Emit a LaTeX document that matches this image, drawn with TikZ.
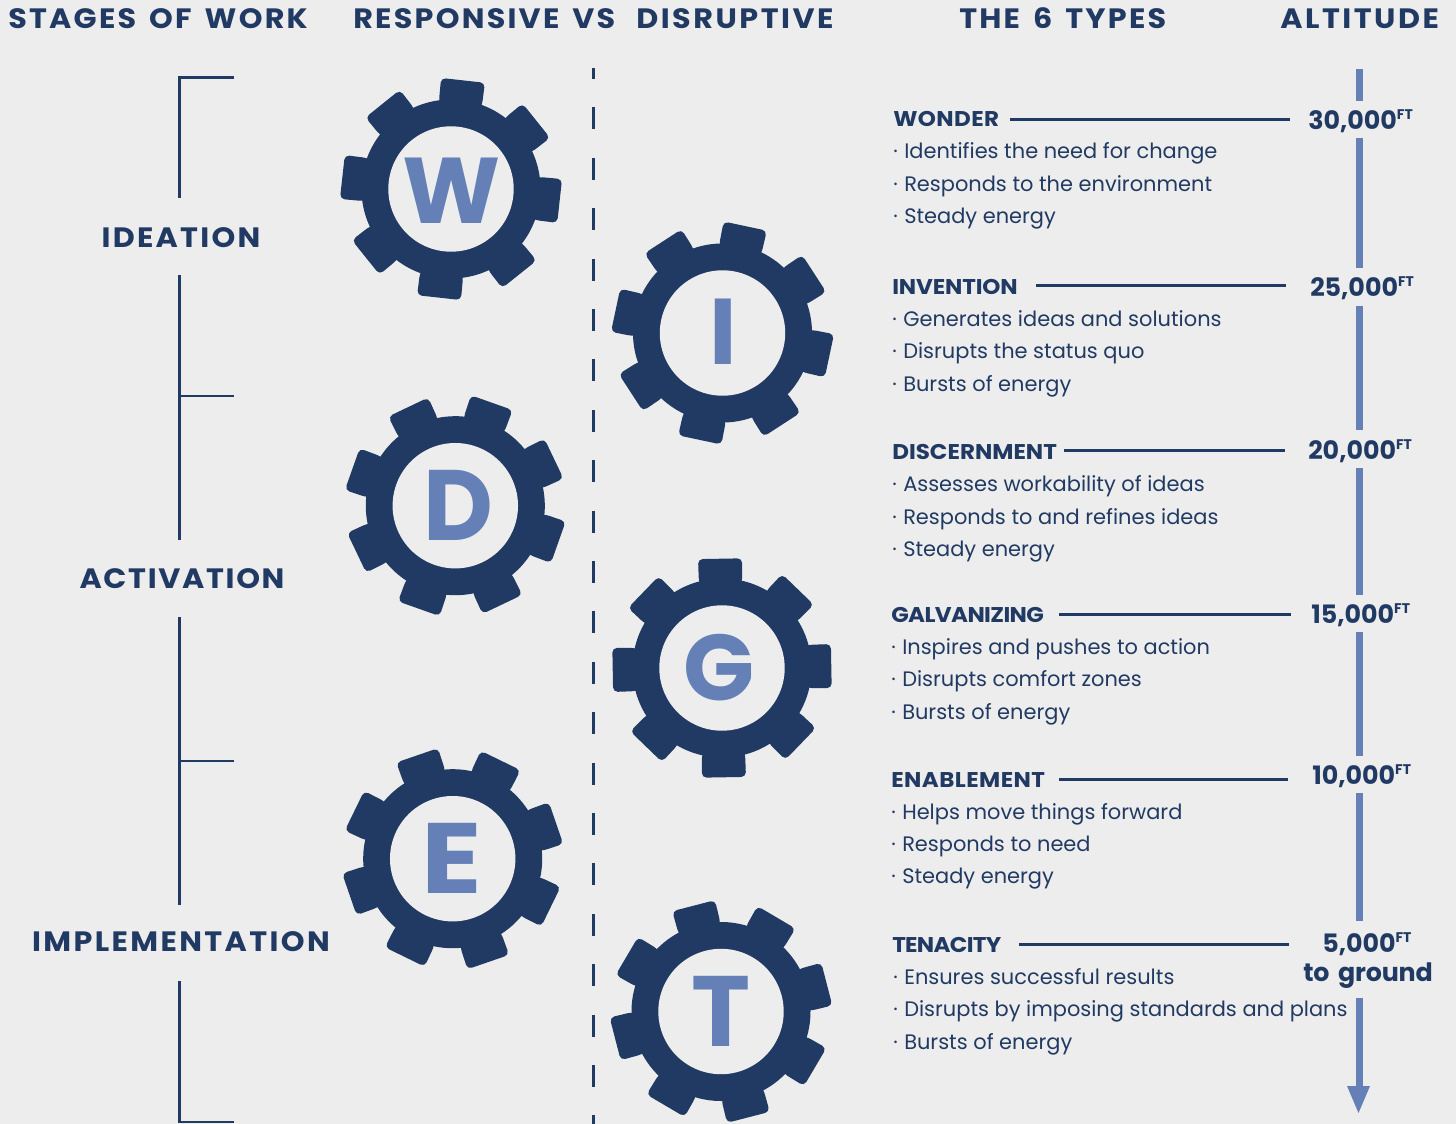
\documentclass[tikz,border=0pt]{standalone}
\usepackage{fontspec}
\setmainfont{Poppins}
\newfontfamily\hd[LetterSpace=8,FakeStretch=1.08,WordSpace=1.5]{Poppins}[BoldFont=Poppins Bold]
\newfontfamily\tyh[FakeStretch=1.08]{Poppins}[BoldFont=Poppins Bold]
\definecolor{navy}{HTML}{213A63}
\definecolor{steel}{HTML}{6480B6}
\definecolor{paper}{HTML}{EDEDED}
\newcommand{\bul}{\makebox[8.25pt][l]{·}}
\newcommand{\ftsup}{\raisebox{7pt}{\fontsize{10.5pt}{10.5pt}\selectfont FT}}
\newcommand{\gear}[8]{% name, x, y, rot, letter, letter x, baseline, letter size/feature
  \begin{scope}[shift={(#2,#3)},y=0.75pt,rotate=-#4]
    \fill[navy] (0,0) circle (89.5);
    \foreach \a in {0,45,...,315}{
      \fill[navy,rounded corners=3.5pt] (\a-13:80) -- (\a-14:89.5) -- (\a-11.4:111.5) -- (\a+11.4:111.5) -- (\a+14:89.5) -- (\a+13:80) -- cycle;
    }
    \fill[paper] (0,0) circle (62.7);
  \end{scope}
  \node[gearletter] (#1) at (#6,#7) {#8#5};
}
\newcommand{\glyphsmall}{\fontsize{70pt}{70pt}\selectfont}
\newcommand{\glyphbig}{\fontsize{75pt}{75pt}\selectfont}
\tikzset{
  x=0.75pt,y=-0.75pt,
  gearletter/.style={anchor=base,inner sep=0,text=steel,font=\bfseries},
  stagehead/.style={anchor=base west,inner sep=0,text=navy,font=\fontsize{21pt}{21pt}\hd\bfseries},
  stagelabel/.style={anchor=base,inner sep=0,text=navy,font=\fontsize{21pt}{21pt}\hd\bfseries},
  typehead/.style={anchor=base west,inner sep=0,text=navy,font=\fontsize{16pt}{16pt}\tyh\bfseries},
  bodytext/.style={anchor=base west,inner sep=0,yshift=0.2pt,text=navy,font=\fontsize{15.7pt}{15.7pt}\selectfont},
  altnum/.style={anchor=base west,inner sep=0,yshift=0.6pt,text=navy,font=\fontsize{19pt}{19pt}\selectfont\bfseries},
  bracket/.style={draw=navy,line width=2pt},
  rule/.style={draw=navy,line width=2.25pt},
  scale bar/.style={draw=steel,line width=5.25pt},
  divider/.style={draw=navy,line width=2.25pt,dash pattern=on 16.5pt off 21.3pt,dash phase=8.25pt},
}
\begin{document}
\begin{tikzpicture}
\fill[paper] (0,0) rectangle (1456,1124);
\useasboundingbox (0,0) rectangle (1456,1124);
% column heads
\node[stagehead] (h1) at (8,29) {STAGES OF WORK};
\node[stagehead] (h2) at (353,29) {RESPONSIVE VS};
\node[stagehead] (h2b) at (636,29) {\addfontfeature{LetterSpace=9}DISRUPTIVE};
\node[stagehead] (h3) at (959,29) {THE 6 TYPES};
\node[stagehead] (h4) at (1280,29) {\addfontfeature{LetterSpace=9}ALTITUDE};
% stage labels
\node[stagelabel] (s1) at (181,247) {IDEATION};
\node[stagelabel] (s2) at (182,588) {\addfontfeature{LetterSpace=6}ACTIVATION};
\node[stagelabel] (s3) at (181,951) {\addfontfeature{LetterSpace=8.5}IMPLEMENTATION};
% brackets
\coordinate (b1) at (234,77.6); \coordinate (b2) at (179.3,77.6); \coordinate (b3) at (179.3,198);
\coordinate (b4) at (179.3,275); \coordinate (b5) at (179.3,540); \coordinate (b6) at (234,396); \coordinate (b7) at (179.3,396);
\coordinate (b8) at (179.3,617); \coordinate (b9) at (179.3,905); \coordinate (b10) at (234,761); \coordinate (b11) at (179.3,761);
\coordinate (b12) at (179.3,981); \coordinate (b13) at (179.3,1122); \coordinate (b14) at (234,1122);
\draw[bracket] (b1) -- (b2) -- (b3);
\draw[bracket] (b4) -- (b5); \draw[bracket] (b6) -- (b7);
\draw[bracket] (b8) -- (b9); \draw[bracket] (b10) -- (b11);
\draw[bracket] (b12) -- (b13) -- (b14);
% divider
\coordinate (d1) at (593,68); \coordinate (d2) at (593,1124);
\draw[divider] (d1) -- (d2);
% gears
\gear{W}{451}{189}{6.3}{W}{452}{223.5}{\glyphsmall}
\gear{I}{722.5}{333}{12}{I}{723}{364}{\glyphsmall}
\gear{D}{455.3}{505.7}{19.5}{D}{458.7}{540.3}{\glyphbig\addfontfeature{FakeStretch=0.96}}
\gear{G}{722}{668}{-1}{G}{719}{700}{\glyphsmall}
\gear{E}{452.7}{858.7}{26}{E}{452}{893.7}{\glyphbig\addfontfeature{FakeStretch=1.12}}
\gear{T}{721}{1011.5}{30.5}{T}{721.3}{1046.7}{\glyphbig}
% types
\node[typehead] (t1) at (893,127) {\addfontfeature{LetterSpace=1.9}WONDER};
\node[bodytext] at (893,159) {\bul Identifies the need for change};
\node[bodytext] at (893,192) {\bul Responds to the environment};
\node[bodytext] at (893,224) {\bul Steady energy};
\node[typehead] (t2) at (892,294) {\addfontfeature{LetterSpace=-0.7}INVENTION};
\node[bodytext] at (892,327) {\bul Generates ideas and solutions};
\node[bodytext] at (892,359) {\bul Disrupts the status quo};
\node[bodytext] at (892,392) {\bul Bursts of energy};
\node[typehead] (t3) at (892,459) {DISCERNMENT};
\node[bodytext] at (892,492) {\bul Assesses workability of ideas};
\node[bodytext] at (892,525) {\bul Responds to and refines ideas};
\node[bodytext] at (892,557) {\bul Steady energy};
\node[typehead] (t4) at (891,622) {\addfontfeature{LetterSpace=-2.9}GALVANIZING};
\node[bodytext] at (891,655) {\bul Inspires and pushes to action};
\node[bodytext] at (891,687) {\bul Disrupts comfort zones};
\node[bodytext] at (891,720) {\bul Bursts of energy};
\node[typehead] (t5) at (891,787) {\addfontfeature{LetterSpace=2}ENABLEMENT};
\node[bodytext] at (891,820) {\bul Helps move things forward};
\node[bodytext] at (891,852) {\bul Responds to need};
\node[bodytext] at (891,884) {\bul Steady energy};
\node[typehead] (t6) at (892,952) {\addfontfeature{LetterSpace=-3.2}TENACITY};
\node[bodytext] at (893,985) {\bul Ensures successful results};
\node[bodytext] at (893,1017) {\bul Disrupts by imposing standards and plans};
\node[bodytext] at (893,1050) {\bul Bursts of energy};
% altitudes
\node[altnum] (a1) at (1308,130) {30,000\ftsup};
\node[altnum] (a2) at (1310,297) {25,000\ftsup};
\node[altnum] (a3) at (1308,460) {20,000\ftsup};
\node[altnum] (a4) at (1311,624) {15,000\ftsup};
\node[altnum] (a5) at (1312,785) {10,000\ftsup};
\node[altnum] (a6) at (1322,953) {5,000\ftsup};
\node[altnum] (a7) at (1303,982) {\addfontfeature{LetterSpace=-0.8}to\hspace{6.5pt}ground};
% rules
\foreach \n/\xa/\xb/\yy in {1/1010/1290/119,2/1036/1286/285,3/1064/1285/450,4/1059/1291/614,5/1059/1288/779,6/1019/1289/944}{
  \coordinate (ra\n) at (\xa,\yy); \coordinate (rb\n) at (\xb,\yy);
  \draw[rule] (ra\n) -- (rb\n);
}
% altitude bar
\foreach \n/\ya/\yb in {1/69/101,2/138/268,3/306/430,4/468/595,5/632/756,6/793/921,7/998/1090}{
  \coordinate (ba\n) at (1359,\ya); \coordinate (bb\n) at (1359,\yb);
  \draw[scale bar] (ba\n) -- (bb\n);
}
\fill[steel] (1347,1086) -- (1370,1086) -- (1358.5,1113) -- cycle;
\end{tikzpicture}
\end{document}
